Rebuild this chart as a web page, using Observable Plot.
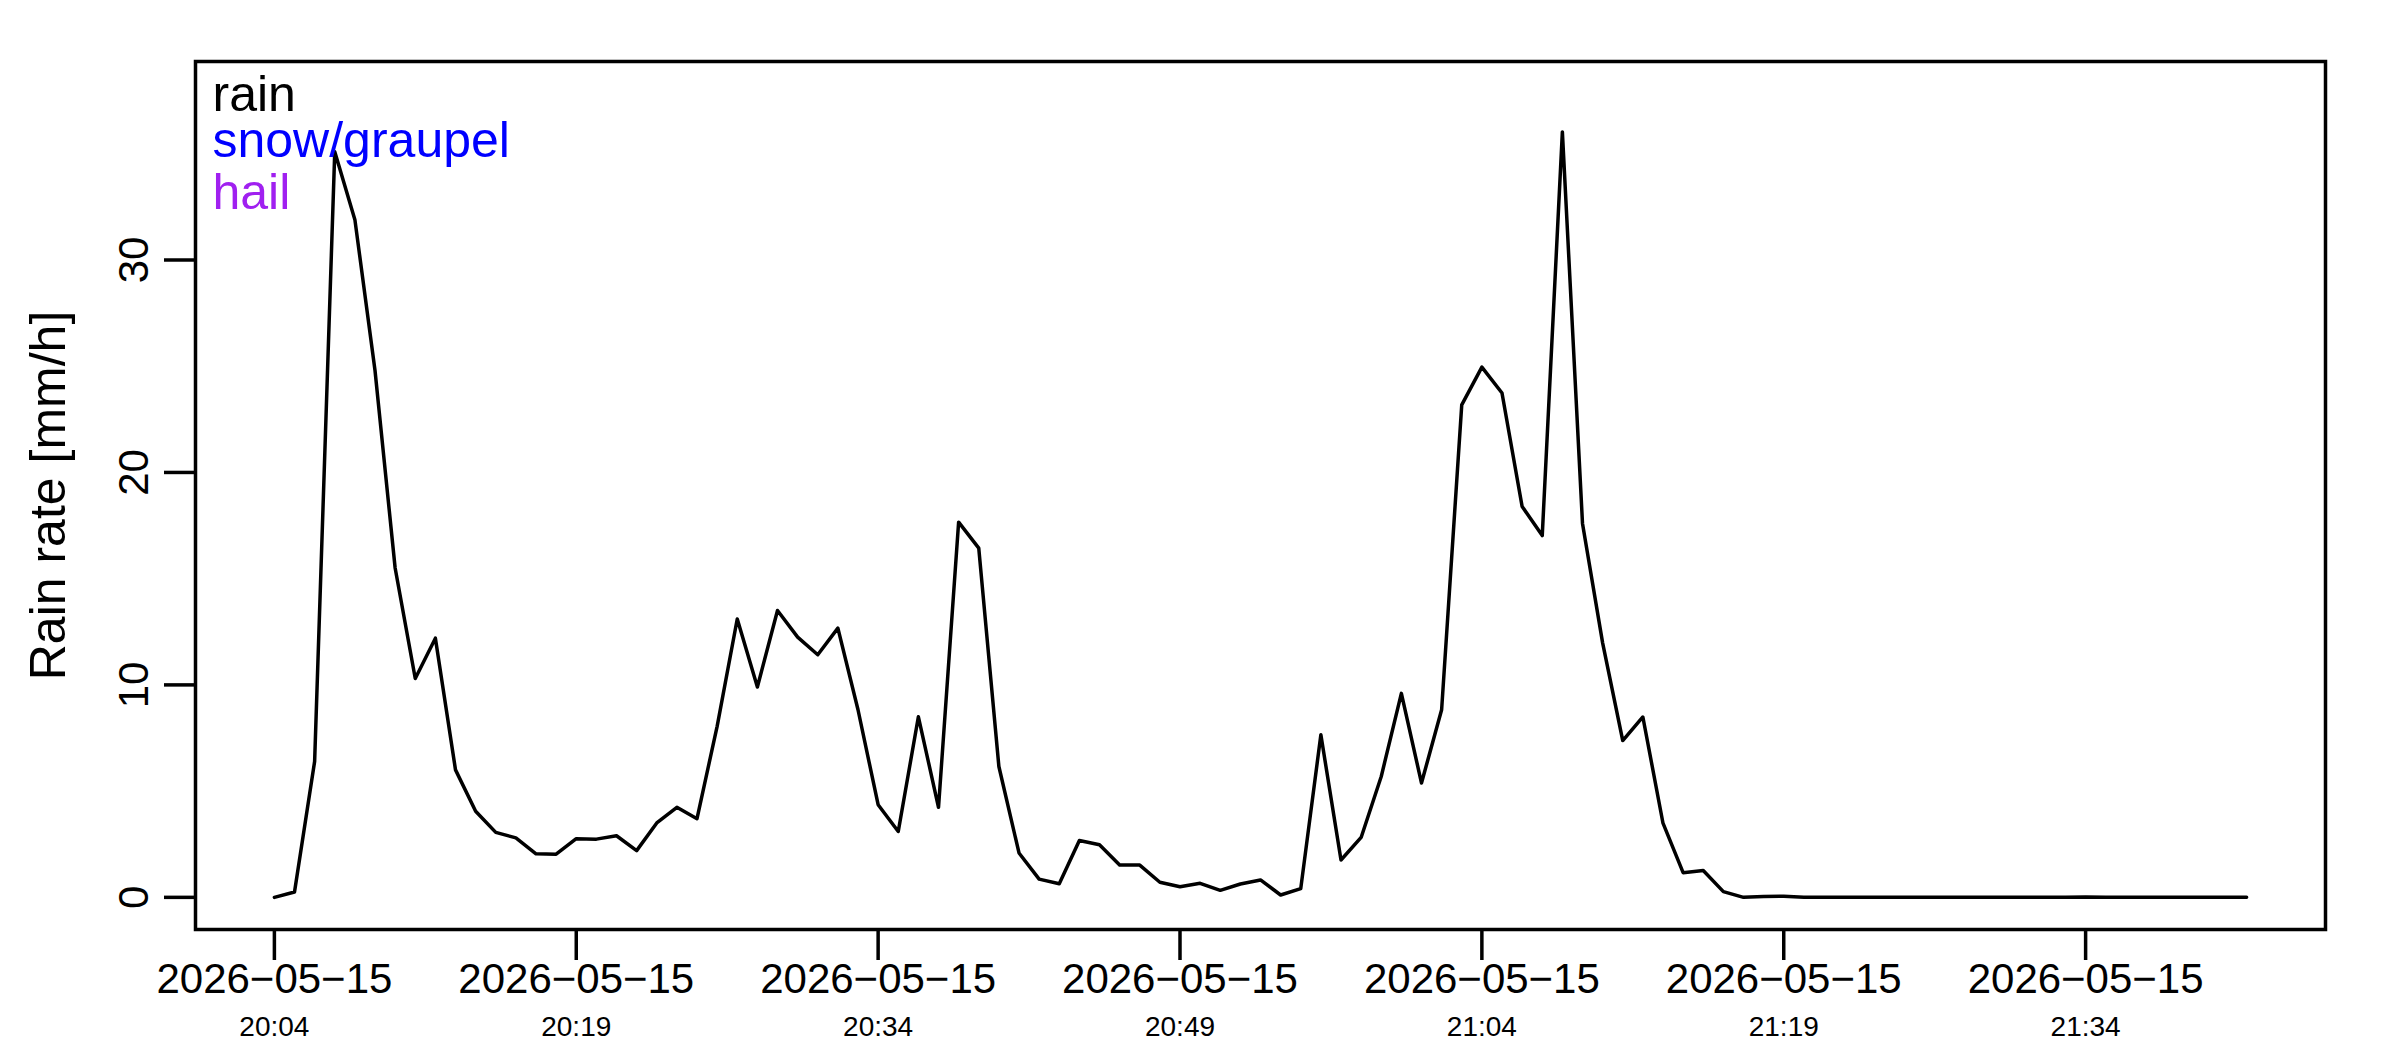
<!DOCTYPE html>
<html>
<head>
<meta charset="utf-8">
<script src="https://cdn.jsdelivr.net/npm/d3@7"></script>
<script src="https://cdn.jsdelivr.net/npm/@observablehq/plot@0.6"></script>
<style>
  body { margin: 0; background: white; }
</style>
</head>
<body>
<div id="chart"></div>
<script>
// serie de intensidad de lluvia, una muestra por minuto desde las 20:04 UTC
const startTime = "2026-05-15T20:04:00Z"
const rainRate = [
  0, 0.25, 6.4, 35.1, 31.9, 24.8, 15.5, 10.3, 12.2, 6.0,
  4.05, 3.06, 2.8, 2.05, 2.03, 2.76, 2.74, 2.9, 2.2, 3.5,
  4.24, 3.7, 8.05, 13.1, 9.9, 13.5, 12.25, 11.42, 12.67, 8.83,
  4.36, 3.1, 8.5, 4.24, 17.66, 16.44, 6.16, 2.09, 0.86, 0.64,
  2.68, 2.48, 1.52, 1.52, 0.71, 0.5, 0.66, 0.33, 0.63, 0.82,
  0.11, 0.41, 7.65, 1.76, 2.82, 5.69, 9.6, 5.38, 8.83, 23.18,
  24.96, 23.74, 18.4, 17.03, 36.03, 17.6, 11.98, 7.38, 8.49, 3.49,
  1.16, 1.26, 0.27, 0, 0.04, 0.05, 0, 0, 0, 0,
  0, 0, 0, 0, 0, 0, 0, 0, 0, 0,
  0.02, 0, 0, 0, 0, 0, 0, 0, 0
]

// ejes
const tickDate = "2026-05-15"
const tickTimes = ["20:04", "20:19", "20:34", "20:49", "21:04", "21:19", "21:34"]
const yTicks = [0, 10, 20, 30]
const yLimits = [0, 37.83]

// leyenda
const legendLabels = ["rain", "snow/graupel", "hail"]
const legendColors = ["black", "#0000FF", "#A020F0"]

const t0 = new Date(startTime)
const data = rainRate.map((v, i) => ({ time: new Date(+t0 + i * 60000), rate: v }))

// rango extendido 4% como en R
const tMin = data[0].time, tMax = data[data.length - 1].time
const padT = (tMax - tMin) * 0.04
const padY = (yLimits[1] - yLimits[0]) * 0.04

const xTicks = tickTimes.map(t => new Date(`${tickDate}T${t}:00Z`))
const fmtDate = d => d3.utcFormat("%Y-%m-%d")(d).replace(/-/g, "\u2212")
const fmtTime = d3.utcFormat("%H:%M")

// desplazamiento vertical de cada línea de la leyenda
const legendDy = [14, 60, 112]

let chart = Plot.plot({
  width: 2400,
  height: 1050,
  marginLeft: 195,
  marginRight: 75,
  marginTop: 61,
  marginBottom: 121,
  style: {
    fontFamily: "'Liberation Sans', Arial, sans-serif",
    background: "white",
    color: "black",
  },
  x: { type: "utc", domain: [new Date(+tMin - padT), new Date(+tMax + padT)] },
  y: { domain: [yLimits[0] - padY, yLimits[1] + padY] },
  marks: [
    Plot.line(data, { x: "time", y: "rate", stroke: "black", strokeWidth: 3.5 }),
    Plot.frame({ stroke: "black", strokeWidth: 3.5 }),
    Plot.axisY({
      ticks: yTicks, tickSize: 31, tickPadding: 17, tickRotate: -90,
      strokeWidth: 3.5, fontSize: 42, label: null,
    }),
    Plot.axisX({
      ticks: xTicks, tickSize: 31, tickPadding: 3, tickFormat: fmtDate,
      strokeWidth: 3.5, fontSize: 42, label: null,
    }),
    Plot.axisX({
      ticks: xTicks, tickSize: 0, tickPadding: 87, tickFormat: fmtTime,
      fontSize: 28, label: null,
    }),
    Plot.text(["Rain rate [mm/h]"], {
      text: d => d, frameAnchor: "left", textAnchor: "middle", rotate: -90,
      dx: -147, fontSize: 50,
    }),
    ...legendLabels.map((lab, i) => Plot.text([lab], {
      text: d => d, frameAnchor: "top-left", textAnchor: "start", lineAnchor: "top",
      dx: 17, dy: legendDy[i], fontSize: 50, fill: legendColors[i],
    })),
  ],
})

d3.select('#chart').append(() => chart)
</script>
</body>
</html>
